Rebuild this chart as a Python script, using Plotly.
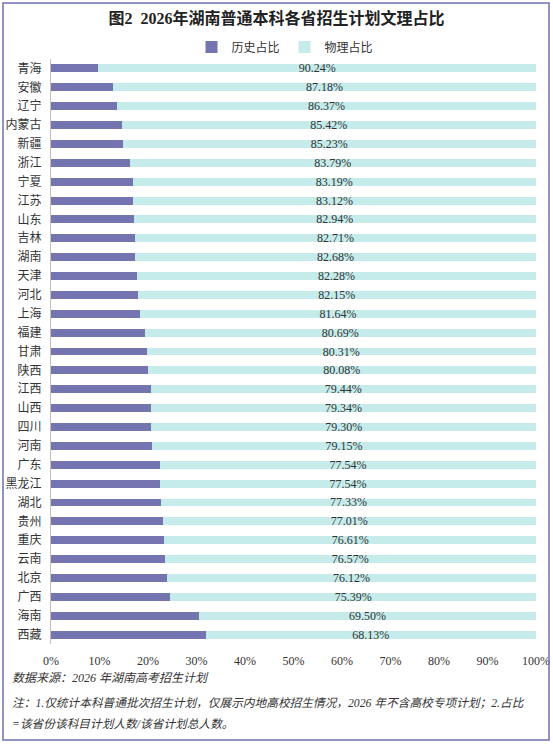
import plotly.graph_objects as go

# 各省 物理占比（%），历史占比 = 100 - 物理
provinces = ["青海", "安徽", "辽宁", "内蒙古", "新疆", "浙江", "宁夏", "江苏", "山东", "吉林",
             "湖南", "天津", "河北", "上海", "福建", "甘肃", "陕西", "江西", "山西", "四川",
             "河南", "广东", "黑龙江", "湖北", "贵州", "重庆", "云南", "北京", "广西", "海南", "西藏"]
physics = [90.24, 87.18, 86.37, 85.42, 85.23, 83.79, 83.19, 83.12, 82.94, 82.71,
           82.68, 82.28, 82.15, 81.64, 80.69, 80.31, 80.08, 79.44, 79.34, 79.30,
           79.15, 77.54, 77.54, 77.33, 77.01, 76.61, 76.57, 76.12, 75.39, 69.50, 68.13]
history = [round(100 - v, 2) for v in physics]

x_ticks = [0, 10, 20, 30, 40, 50, 60, 70, 80, 90, 100]

W, H = 553, 744
L, R, T, B = 51, 17, 59, 100
serif = "Liberation Serif, Noto Sans CJK SC"


def px_x(p):
    return (p - L) / (W - L - R)


def px_y(p):
    return 1 - (p - T) / (H - T - B)


fig = go.Figure()
fig.add_trace(go.Bar(
    y=provinces, x=history, name="历史占比", orientation="h",
    marker=dict(color="#7474B0", line_width=0),
    hoverinfo="skip",
))
fig.add_trace(go.Bar(
    y=provinces, x=physics, name="物理占比", orientation="h",
    marker=dict(color="#C5ECEB", line_width=0),
    text=[f"{v:.2f}%" for v in physics],
    textposition="inside", insidetextanchor="middle",
    constraintext="none",
    textfont=dict(family=serif, size=12, color="#333333"),
    hoverinfo="skip",
))

fig.update_layout(
    width=W, height=H,
    barmode="stack", bargap=0.58,
    margin=dict(l=L, r=R, t=T, b=B, autoexpand=False),
    paper_bgcolor="white", plot_bgcolor="white",
    font=dict(family=serif, size=12, color="#333333"),
    title=dict(text="<b>图2  2026年湖南普通本科各省招生计划文理占比</b>",
               x=0.5, xanchor="center", y=1 - 18 / H, yanchor="middle",
               font=dict(size=16, color="#222222")),
    legend=dict(orientation="h", x=px_x(285), xanchor="center",
                y=px_y(47), yanchor="middle", traceorder="normal",
                font=dict(size=12, color="#333333"),
                itemwidth=30, tracegroupgap=0),
    showlegend=True,
)

fig.update_xaxes(range=[0, 100], tickvals=x_ticks,
                 ticktext=[f"{t}%" for t in x_ticks],
                 showgrid=False, zeroline=False, showline=False, automargin=False,
                 ticks="", ticklabelstandoff=8, fixedrange=True)
fig.update_yaxes(autorange="reversed", showgrid=False, zeroline=False, automargin=False,
                 showline=True, linecolor="#BFBFBF", linewidth=1,
                 ticks="", ticklabelstandoff=6, tickfont=dict(size=12))

# 数据来源与注释
fig.add_annotation(text="<i>数据来源：2026 年湖南高考招生计划</i>",
                   xref="paper", yref="paper", x=px_x(10), y=px_y(678),
                   xanchor="left", yanchor="middle", showarrow=False,
                   font=dict(size=12, color="#333333"))
fig.add_annotation(text="<i>注：1.仅统计本科普通批次招生计划，仅展示内地高校招生情况，2026 年不含高校专项计划；2.占比</i>",
                   xref="paper", yref="paper", x=px_x(10), y=px_y(703),
                   xanchor="left", yanchor="middle", showarrow=False,
                   font=dict(size=11.7, color="#333333"))
fig.add_annotation(text="<i>=该省份该科目计划人数/该省计划总人数。</i>",
                   xref="paper", yref="paper", x=px_x(10), y=px_y(724),
                   xanchor="left", yanchor="middle", showarrow=False,
                   font=dict(size=11.7, color="#333333"))

# 外边框
fig.add_shape(type="rect", xref="paper", yref="paper",
              x0=px_x(3), x1=px_x(549), y0=px_y(740), y1=px_y(3),
              line=dict(color="#7070B0", width=1.5), fillcolor="rgba(0,0,0,0)")

fig.write_html("out.html", config={"displayModeBar": False},
               post_script="document.body.style.margin='0';")
